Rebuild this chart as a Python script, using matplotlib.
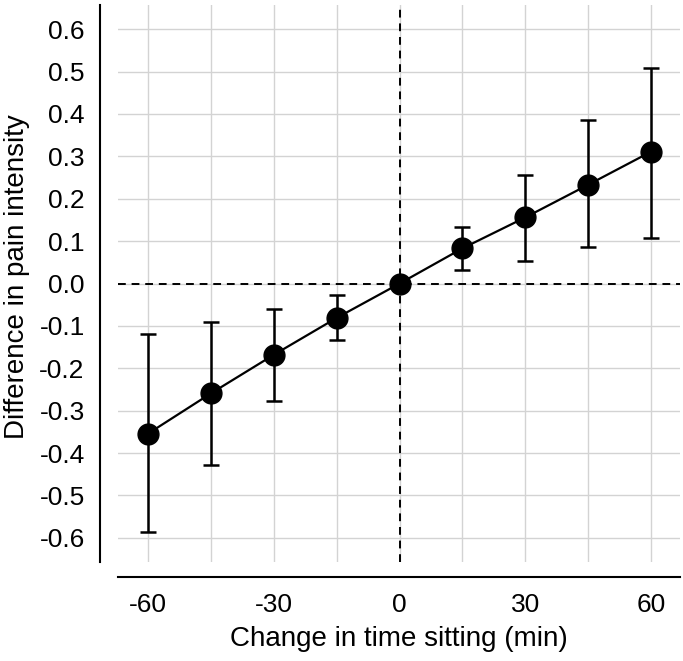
import matplotlib
matplotlib.use('Agg')
import matplotlib.pyplot as plt

plt.rcParams['font.family'] = ['Liberation Sans', 'DejaVu Sans']
plt.rcParams['axes.unicode_minus'] = False

# change in time sitting (min) and estimated difference in pain intensity
minutes = [-60, -45, -30, -15, 0, 15, 30, 45, 60]
diff = [-0.354, -0.259, -0.168, -0.081, 0.0, 0.083, 0.156, 0.233, 0.311]
ci_low = [-0.587, -0.429, -0.278, -0.134, 0.0, 0.033, 0.054, 0.085, 0.108]
ci_high = [-0.120, -0.090, -0.059, -0.028, 0.0, 0.134, 0.257, 0.385, 0.509]

x_ticks = [-60, -30, 0, 30, 60]
x_grid = [-60, -45, -30, -15, 0, 15, 30, 45, 60]
y_ticks = [-0.6, -0.5, -0.4, -0.3, -0.2, -0.1, 0.0, 0.1, 0.2, 0.3, 0.4, 0.5, 0.6]

err_low = [d - lo for d, lo in zip(diff, ci_low)]
err_high = [hi - d for d, hi in zip(diff, ci_high)]

fig = plt.figure(figsize=(6.83, 6.61), dpi=100)
ax = fig.add_axes([0.1728, 0.1498, 0.8228, 0.8426])

for gx in x_grid:
    ax.axvline(gx, color='#d3d3d3', linewidth=1.0, zorder=0)
for gy in y_ticks:
    ax.axhline(gy, color='#d3d3d3', linewidth=1.0, zorder=0)

ax.axhline(0, color='black', linestyle=(0, (4, 3)), linewidth=1.4, zorder=1)
ax.axvline(0, color='black', linestyle=(0, (4, 3)), linewidth=1.4, zorder=1)

ax.errorbar(minutes, diff, yerr=[err_low, err_high], fmt='o-', color='black',
            markersize=15, linewidth=1.6, elinewidth=1.8, capsize=6,
            capthick=1.8, zorder=3)

ax.set_xlim(-67.2, 66.9)
ax.set_ylim(-0.657, 0.657)
ax.set_xticks(x_ticks)
ax.set_xticklabels([str(v) for v in x_ticks])
ax.set_yticks(y_ticks)
ax.set_yticklabels([f'{v:.1f}' for v in y_ticks])
ax.tick_params(length=0, labelsize=19)
ax.tick_params(axis='y', pad=11)
ax.tick_params(axis='x', pad=11)

for side in ['top', 'right']:
    ax.spines[side].set_visible(False)
ax.spines['left'].set_position(('outward', 13))
ax.spines['bottom'].set_position(('outward', 11))
ax.spines['left'].set_linewidth(1.5)
ax.spines['bottom'].set_linewidth(1.5)

ax.set_xlabel('Change in time sitting (min)', fontsize=20)
ax.set_ylabel('Difference in pain intensity', fontsize=20)
ax.xaxis.set_label_coords(0.5, -0.115)
ax.yaxis.set_label_coords(-0.157, 0.512)

fig.savefig('out.png', dpi=100)
